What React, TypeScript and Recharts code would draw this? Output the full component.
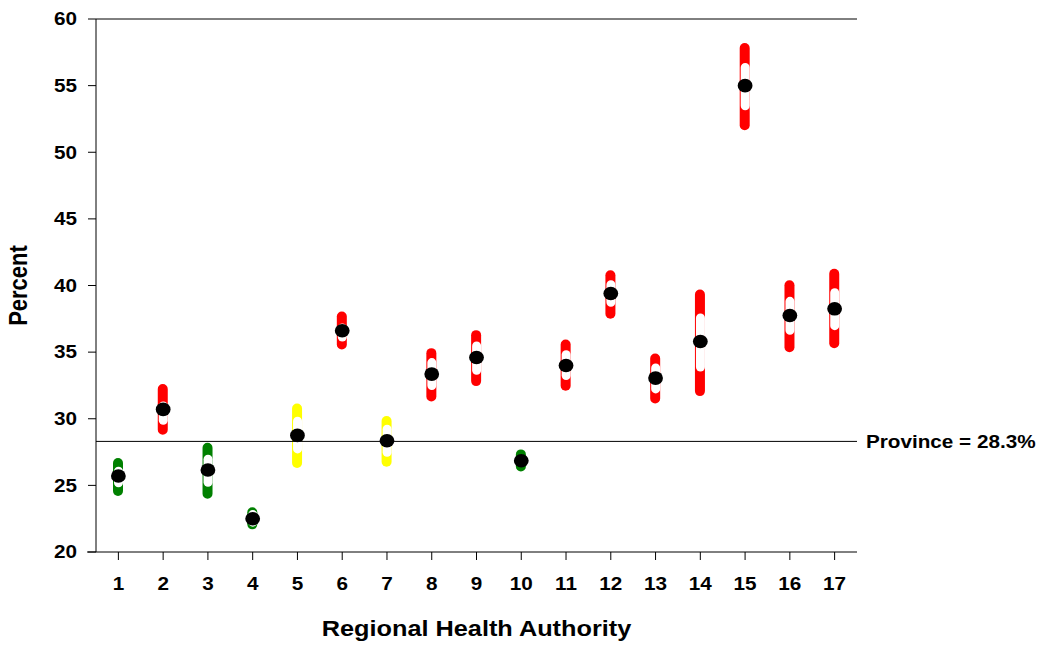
import { Bar, Cell, ComposedChart, ReferenceLine, Scatter, XAxis, YAxis } from "recharts";

const regions = ["1", "2", "3", "4", "5", "6", "7", "8", "9", "10", "11", "12", "13", "14", "15", "16", "17"];
const estimate = [25.7, 30.7, 26.15, 22.5, 28.75, 36.6, 28.35, 33.35, 34.6, 26.85, 34.0, 39.4, 33.05, 35.8, 55.0, 37.75, 38.25];
const outerLow = [24.2, 28.8, 24.0, 21.7, 26.3, 35.2, 26.4, 31.3, 32.45, 26.05, 32.1, 37.5, 31.15, 31.7, 51.65, 35.0, 35.3];
const outerHigh = [27.05, 32.6, 28.2, 23.35, 31.15, 38.05, 30.2, 35.3, 36.65, 27.7, 35.95, 41.15, 34.9, 39.7, 58.2, 40.4, 41.25];
const innerLow = [24.85, 29.55, 24.9, 21.9, 27.4, 35.8, 27.15, 32.15, 33.3, 26.4, 32.9, 38.4, 31.9, 33.55, 53.15, 36.3, 36.65];
const innerHigh = [26.4, 31.3, 27.3, 23.15, 30.15, 37.15, 29.55, 34.55, 35.8, 27.3, 35.15, 40.4, 34.15, 37.9, 56.7, 39.15, 39.8];
const rating = ["green", "red", "green", "green", "yellow", "red", "yellow", "red", "red", "green", "red", "red", "red", "red", "red", "red", "red"];
const yTicks = [20, 25, 30, 35, 40, 45, 50, 55, 60];
const province = 28.3;

const COLOURS: Record<string, string> = { green: "#008000", red: "#ff0000", yellow: "#ffff00" };
const FONT = '"Liberation Sans", Arial, sans-serif';
const STRETCH = 1.15;

const data = regions.map((r, i) => ({
  rha: r,
  est: estimate[i],
  outer: [outerLow[i], outerHigh[i]],
  inner: [innerLow[i], innerHigh[i]],
  rating: rating[i],
}));

const XTick = ({ x, y, payload }: any) => (
  <text
    transform={`translate(${x},${y}) scale(${STRETCH},1)`}
    textAnchor="middle"
    dy="0.71em"
    fontFamily={FONT}
    fontWeight="bold"
    fontSize={18}
    fill="#000"
  >
    {payload.value}
  </text>
);

const YTick = ({ x, y, payload }: any) => (
  <text
    transform={`translate(${x},${y}) scale(${STRETCH},1)`}
    textAnchor="end"
    dy="0.35em"
    fontFamily={FONT}
    fontWeight="bold"
    fontSize={18}
    fill="#000"
  >
    {payload.value}
  </text>
);

const Dot = ({ cx, cy }: any) => <ellipse cx={cx} cy={cy} rx={7.4} ry={6.8} fill="#000" />;

export default function App() {
  return (
    <div style={{ position: "absolute", left: 0, top: 0, background: "#fff" }}>
      <ComposedChart width={1043} height={645} data={data} margin={{ top: 19, right: 186, bottom: 0, left: 0 }}>
        <XAxis
          xAxisId="a"
          dataKey="rha"
          height={93}
          tickSize={8}
          tickMargin={17}
          tick={<XTick />}
          axisLine={{ stroke: "#000" }}
          tickLine={{ stroke: "#000" }}
          label={{
            content: ({ viewBox }: any) => (
              <g>
                <line x1={viewBox.x - 9} x2={viewBox.x} y1={viewBox.y} y2={viewBox.y} stroke="#000" />
                <text
                  transform={`translate(${viewBox.x + viewBox.width / 2},${viewBox.y + 84}) scale(${STRETCH},1)`}
                  textAnchor="middle"
                  fontFamily={FONT}
                  fontWeight="bold"
                  fontSize={22}
                  fill="#000"
                >
                  Regional Health Authority
                </text>
              </g>
            ),
          }}
        />
        <XAxis xAxisId="b" dataKey="rha" hide />
        <YAxis
          domain={[20, 60]}
          ticks={yTicks}
          width={96}
          tickSize={8}
          tickMargin={11}
          tick={<YTick />}
          axisLine={{ stroke: "#000" }}
          tickLine={{ stroke: "#000" }}
          allowDataOverflow
          label={{
            content: ({ viewBox }: any) => (
              <text
                transform={`translate(27,${viewBox.y + viewBox.height / 2}) rotate(-90) scale(1,${STRETCH})`}
                textAnchor="middle"
                fontFamily={FONT}
                fontWeight="bold"
                fontSize={22}
                fill="#000"
              >
                Percent
              </text>
            ),
          }}
        />
        <YAxis yAxisId="r" orientation="right" width={0} domain={[20, 60]} tick={false} tickLine={false} axisLine={{ stroke: "#000" }} />
        <ReferenceLine xAxisId="a" y={60} stroke="#000" />
        <ReferenceLine
          xAxisId="a"
          y={province}
          stroke="#000"
          label={{
            content: ({ viewBox }: any) => (
              <text
                transform={`translate(${viewBox.x + viewBox.width + 9},${viewBox.y}) scale(${STRETCH},1)`}
                dy="0.35em"
                fontFamily={FONT}
                fontWeight="bold"
                fontSize={18}
                fill="#000"
              >
                {`Province = ${province}%`}
              </text>
            ),
          }}
        />
        <Bar xAxisId="a" dataKey="outer" barSize={10} radius={5} isAnimationActive={false}>
          {data.map((d) => (
            <Cell key={d.rha} fill={COLOURS[d.rating]} />
          ))}
        </Bar>
        <Bar xAxisId="b" dataKey="inner" barSize={9} radius={4.5} fill="#fff" isAnimationActive={false} />
        <Scatter xAxisId="a" dataKey="est" shape={<Dot />} isAnimationActive={false} />
      </ComposedChart>
    </div>
  );
}
